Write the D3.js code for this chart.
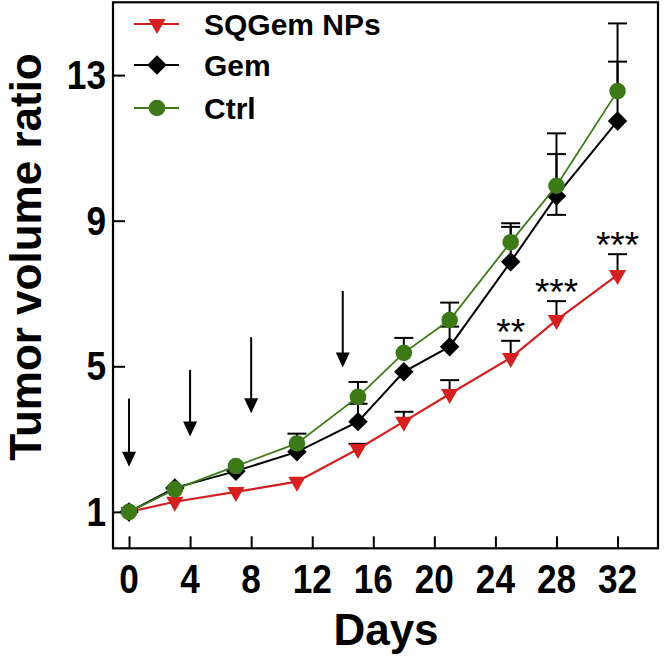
<!DOCTYPE html>
<html>
<head>
<meta charset="utf-8">
<script src="https://cdn.jsdelivr.net/npm/d3@7"></script>
<style>
  html, body { margin: 0; padding: 0; background: #fff; }
  svg { display: block; }
  text { font-family: "Liberation Sans", Arial, sans-serif; }
</style>
</head>
<body>
<svg id="chart" width="664" height="658"></svg>
<script>
// ---------------- data ----------------
const days = [0, 3, 7, 11, 15, 18, 21, 25, 28, 32];
const seriesNames = ["SQGem NPs", "Gem", "Ctrl"];
const sqgem      = [1.00, 1.28, 1.55, 1.83, 2.73, 3.48, 4.24, 5.23, 6.27, 7.51];
const sqgemErr   = [0, 0, 0, 0, 0.14, 0.27, 0.38, 0.47, 0.52, 0.57];
const gem        = [1.00, 1.66, 2.12, 2.65, 3.48, 4.85, 5.54, 7.87, 9.68, 11.74];
const gemErrUp   = [0, 0, 0, 0, 0.49, 0, 0.55, 0.96, 1.15, 1.63];
const gemErrDown = [0, 0, 0, 0, 0, 0, 0, 0, 0.52, 0];
const ctrl       = [1.00, 1.62, 2.26, 2.88, 4.16, 5.37, 6.27, 8.41, 9.96, 12.56];
const ctrlErr    = [0, 0, 0, 0.27, 0.41, 0.41, 0.48, 0.52, 1.44, 1.86];
const sigLabels  = ["", "", "", "", "", "", "", "**", "***", "***"];
const xTicks = [0, 4, 8, 12, 16, 20, 24, 28, 32];
const yTicks = [1, 5, 9, 13];
const arrowDays = [0, 4, 8, 14];
const arrowTop  = [4.11, 4.90, 5.80, 7.07];
const arrowTip  = [2.24, 3.07, 3.71, 4.97];
const xTitle = "Days";
const yTitle = "Tumor volume ratio";

// ---------------- layout ----------------
const RED = "#d4201f", GREEN = "#3d7a17", BLACK = "#000";
const svg = d3.select("#chart");
const x = d3.scaleLinear().domain([-1.05, 34.65]).range([113, 658]);
const y = d3.scaleLinear().domain([0, 15]).range([548.3, 2.3]);

// frame
svg.append("rect")
  .attr("x", x.range()[0]).attr("y", y.range()[1])
  .attr("width", x.range()[1] - x.range()[0])
  .attr("height", y.range()[0] - y.range()[1])
  .attr("fill", "none").attr("stroke", BLACK).attr("stroke-width", 2.2);

// axes (inward ticks)
const xAxis = d3.axisTop(x).tickValues(xTicks).tickSize(12).tickFormat("");
const gx = svg.append("g").attr("transform", `translate(0,${y.range()[0]})`).call(xAxis);
gx.select(".domain").remove();
gx.selectAll(".tick line").attr("stroke", BLACK).attr("stroke-width", 2);
svg.append("g").selectAll("text").data(xTicks).join("text")
  .attr("x", d => x(d)).attr("y", 593)
  .attr("text-anchor", "middle")
  .attr("font-size", 40).attr("font-weight", "bold")
  .attr("transform", d => `translate(${x(d)},0) scale(0.88,1) translate(${-x(d)},0)`)
  .text(d => d);

const yAxis = d3.axisRight(y).tickValues(yTicks).tickSize(12).tickFormat("");
const gy = svg.append("g").attr("transform", `translate(${x.range()[0]},0)`).call(yAxis);
gy.select(".domain").remove();
gy.selectAll(".tick line").attr("stroke", BLACK).attr("stroke-width", 2);
svg.append("g").selectAll("text").data(yTicks).join("text")
  .attr("x", 106).attr("y", d => y(d) + 14)
  .attr("text-anchor", "end")
  .attr("font-size", 40).attr("font-weight", "bold")
  .attr("transform", `translate(106,0) scale(0.88,1) translate(-106,0)`)
  .text(d => d);

// titles
svg.append("text")
  .attr("x", 386).attr("y", 645)
  .attr("text-anchor", "middle")
  .attr("font-size", 44).attr("font-weight", "bold")
  .text(xTitle);
svg.append("text")
  .attr("transform", "translate(41,257) rotate(-90)")
  .attr("text-anchor", "middle")
  .attr("font-size", 44).attr("font-weight", "bold")
  .text(yTitle);

// arrows
const arrows = svg.append("g");
arrowDays.forEach((d, i) => {
  const ax = x(d), top = y(arrowTop[i]), tip = y(arrowTip[i]);
  arrows.append("line").attr("x1", ax).attr("x2", ax).attr("y1", top).attr("y2", tip - 10)
    .attr("stroke", BLACK).attr("stroke-width", 2);
  arrows.append("path")
    .attr("d", `M${ax - 7},${tip - 15} L${ax + 7},${tip - 15} L${ax},${tip} Z`)
    .attr("fill", BLACK);
});

// symbols
const triDown = d3.symbol().type(d3.symbolTriangle).size(130);
const diamond = d3.symbol().type(d3.symbolSquare).size(190);
const circle = d3.symbol().type(d3.symbolCircle).size(Math.PI * 8.3 * 8.3);

const series = [
  { name: seriesNames[0], vals: sqgem, up: sqgemErr, down: days.map(() => 0), color: RED,
    marker: g => g.append("path").attr("d", triDown()).attr("transform", "rotate(180)"), lw: 2.2 },
  { name: seriesNames[1], vals: gem, up: gemErrUp, down: gemErrDown, color: BLACK,
    marker: g => g.append("path").attr("d", diamond()).attr("transform", "rotate(45)"), lw: 2 },
  { name: seriesNames[2], vals: ctrl, up: ctrlErr, down: days.map(() => 0), color: GREEN,
    marker: g => g.append("path").attr("d", circle()), lw: 1.8 }
];

// error bars (all black)
const eb = svg.append("g");
const capW = 19;
series.forEach(s => {
  days.forEach((d, i) => {
    const cx = x(d), cy = y(s.vals[i]);
    [[s.up[i], 1], [s.down[i], -1]].forEach(([e, dir]) => {
      if (!e) return;
      const ey = y(s.vals[i] + dir * e);
      eb.append("line").attr("x1", cx).attr("x2", cx).attr("y1", cy).attr("y2", ey)
        .attr("stroke", BLACK).attr("stroke-width", 2);
      eb.append("line").attr("x1", cx - capW / 2).attr("x2", cx + capW / 2).attr("y1", ey).attr("y2", ey)
        .attr("stroke", BLACK).attr("stroke-width", 2);
    });
  });
});

// lines and markers
const line = d3.line().x((d, i) => x(days[i])).y(d => y(d));
series.forEach(s => {
  svg.append("path").attr("d", line(s.vals)).attr("fill", "none")
    .attr("stroke", s.color).attr("stroke-width", s.lw);
  const mg = svg.append("g").attr("fill", s.color);
  days.forEach((d, i) => {
    const g = mg.append("g").attr("transform", `translate(${x(d)},${y(s.vals[i])})`);
    s.marker(g);
  });
});

// significance stars (above SQGem error caps)
svg.append("g").selectAll("text").data(days).join("text")
  .attr("x", d => x(d))
  .attr("y", (d, i) => y(sqgem[i] + sqgemErr[i]) + 4)
  .attr("text-anchor", "middle")
  .attr("font-size", 37)
  .text((d, i) => sigLabels[i]);

// legend
const legend = svg.append("g");
const legY = [24, 65, 108];
series.forEach((s, i) => {
  const ly = legY[i];
  legend.append("line").attr("x1", 134).attr("x2", 179).attr("y1", ly).attr("y2", ly)
    .attr("stroke", s.color).attr("stroke-width", s.lw);
  const g = legend.append("g").attr("fill", s.color).attr("transform", `translate(157,${ly})`);
  s.marker(g);
  legend.append("text").attr("x", 204).attr("y", ly + 11)
    .attr("font-size", 30).attr("font-weight", "bold")
    .text(s.name);
});
</script>
</body>
</html>
